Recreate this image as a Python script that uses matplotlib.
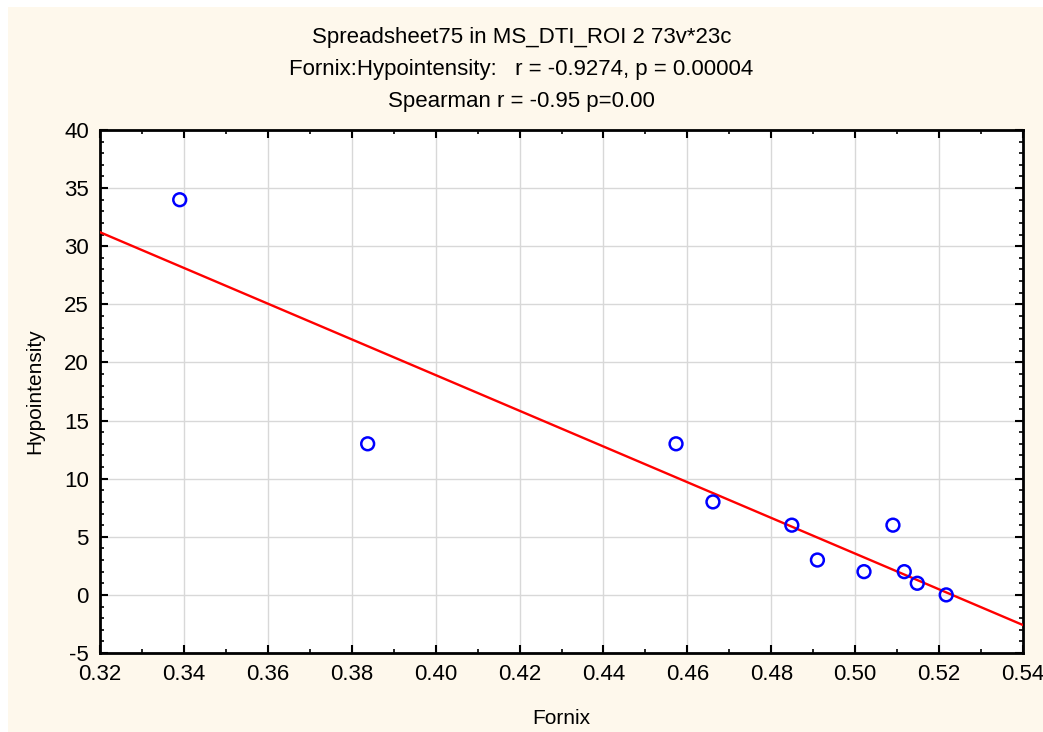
import numpy as np
import matplotlib
matplotlib.use("Agg")
import matplotlib.pyplot as plt
from matplotlib.patches import Rectangle
from matplotlib.ticker import MultipleLocator, FormatStrFormatter

fornix = [0.3390, 0.3838, 0.4573, 0.4661, 0.4849, 0.4910, 0.5021, 0.5090, 0.5117, 0.5148, 0.5217]
hypo = [34, 13, 13, 8, 6, 3, 2, 6, 2, 1, 0]
titles = ["Spreadsheet75 in MS_DTI_ROI 2 73v*23c",
          "Fornix:Hypointensity:   r = -0.9274, p = 0.00004",
          "Spearman r = -0.95 p=0.00"]
xlabel = "Fornix"
ylabel = "Hypointensity"

plt.rcParams['font.family'] = ['Liberation Sans', 'DejaVu Sans']
plt.rcParams['axes.unicode_minus'] = False

fig = plt.figure(figsize=(10.43, 7.32), dpi=100)
fig.patch.set_facecolor('white')
fig.patches.append(Rectangle((8/1043, -0.01), 1, 725/732 + 0.01, transform=fig.transFigure,
                             facecolor='#fef8ec', edgecolor='none', zorder=-10))

ax = fig.add_axes([100/1043, 1 - 653/732, (1023-100)/1043, (653-130)/732])
ax.set_facecolor('white')

x = np.array(fornix)
y = np.array(hypo)
slope, intercept = np.polyfit(x, y, 1)
xl = np.array([0.32, 0.54])
ax.plot(xl, intercept + slope * xl, color='#ff0000', lw=1.7, zorder=3)
ax.scatter(x, y, s=85, facecolors='none', edgecolors='#0000ff', linewidths=1.8, zorder=4)

ax.set_xlim(0.32, 0.54)
ax.set_ylim(-5, 40)
ax.xaxis.set_major_locator(MultipleLocator(0.02))
ax.xaxis.set_minor_locator(MultipleLocator(0.01))
ax.yaxis.set_major_locator(MultipleLocator(5))
ax.yaxis.set_minor_locator(MultipleLocator(1))
ax.xaxis.set_major_formatter(FormatStrFormatter('%.2f'))
ax.grid(True, which='major', color='#d8d8d8', lw=1)
ax.set_axisbelow(True)
for s in ax.spines.values():
    s.set_linewidth(2)
    s.set_color('black')
ax.tick_params(which='both', direction='in', top=True, right=True, color='black')
ax.tick_params(which='major', length=6, width=1.5, labelsize=16, pad=8)
ax.tick_params(which='minor', length=3, width=1.2)

ax.set_xlabel(xlabel, fontsize=15, labelpad=17)
ax.set_ylabel(ylabel, fontsize=15, labelpad=14)

for i, t in enumerate(titles):
    fig.text(0.5, 1 - (37 + 32 * i) / 732, t, ha='center', va='center', fontsize=16)

fig.savefig('out.png', dpi=100)
